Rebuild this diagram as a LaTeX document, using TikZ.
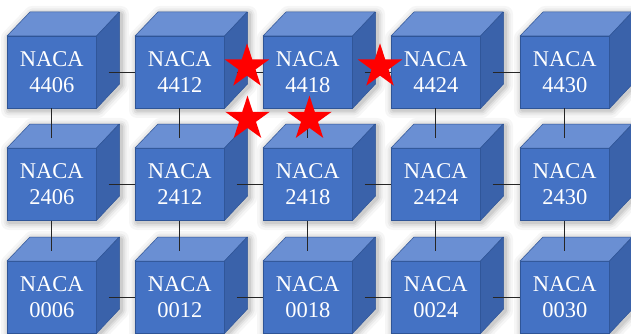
\documentclass[tikz,border=0pt]{standalone}
\usepackage{fontspec}
\setmainfont{Liberation Serif}
\usetikzlibrary{calc}
\definecolor{cfront}{HTML}{4472C4}
\definecolor{ctop}{HTML}{6A8FD3}
\definecolor{cside}{HTML}{3A62AA}
\definecolor{cedge}{HTML}{2F5597}
\tikzset{
  cubefront/.style={draw=cedge, fill=cfront, line width=0.5pt, minimum width=89pt,
    minimum height=72pt, inner sep=0pt, text=white,
    font=\fontsize{22.5}{25.5}\selectfont, align=center, anchor=north west},
  topface/.style={draw=cedge, fill=ctop, line width=0.5pt, line join=round},
  sideface/.style={draw=cedge, fill=cside, line width=0.5pt, line join=round},
  shadowline/.style={black, line join=round},
  link/.style={draw=black!85, line width=0.8pt},
  starfill/.style={fill=red},
}
\newcommand\mkcube[4]{%
  \foreach \w/\o in {16/0.035,11/0.045,7/0.06,3.5/0.07}{%
    \draw[shadowline, line width=\w pt, opacity=\o] (#2+2,#3+2) -- ++(0,72) -- ++(89,0)
      -- ++(23,-24) -- ++(0,-72) -- ++(-89,0) -- cycle;}
  \node[cubefront] (#1) at (#2,#3) {NACA\\#4};
  \draw[topface] (#1.north west) -- ++(23,-24) -- ++(89,0) -- (#1.north east) -- cycle;
  \draw[sideface] (#1.north east) -- ++(23,-24) -- ++(0,72) -- (#1.south east) -- cycle;
}
\newcommand\mkstar[1]{%
  \fill[starfill, shift={(#1)}] (90:23.4pt) -- (126:8.94pt) -- (162:23.4pt) -- (198:8.94pt)
    -- (234:23.4pt) -- (270:8.94pt) -- (306:23.4pt) -- (342:8.94pt) -- (18:23.4pt)
    -- (54:8.94pt) -- cycle;
}
\begin{document}
\begin{tikzpicture}[x=1pt, y=-1pt]
\useasboundingbox[fill=white] (0,0) rectangle (631,334);
\foreach \r/\p/\y in {1/44/36, 2/24/148, 3/00/261}{
  \foreach \c/\t/\x in {1/06/7, 2/12/135, 3/18/263, 4/24/391, 5/30/520}{
    \mkcube{c\r\c}{\x}{\y}{\p\t}
  }
}
\foreach \r in {1,2,3}{
  \foreach \c [evaluate=\c as \n using int(\c+1)] in {1,2,3,4}{
    \draw[link] ([xshift=12pt]c\r\c.east) -- (c\r\n.west);
  }
}
\foreach \r [evaluate=\r as \n using int(\r+1)] in {1,2}{
  \foreach \c in {1,2,3,4,5}{
    \draw[link] (c\r\c.south) -- ([yshift=10pt]c\n\c.north);
  }
}
\coordinate (s1) at (247,66.7);
\coordinate (s2) at (380,66.7);
\coordinate (s3) at (247.5,119);
\coordinate (s4) at (309.5,119);
\mkstar{s1}
\mkstar{s2}
\mkstar{s3}
\mkstar{s4}
\end{tikzpicture}
\end{document}
